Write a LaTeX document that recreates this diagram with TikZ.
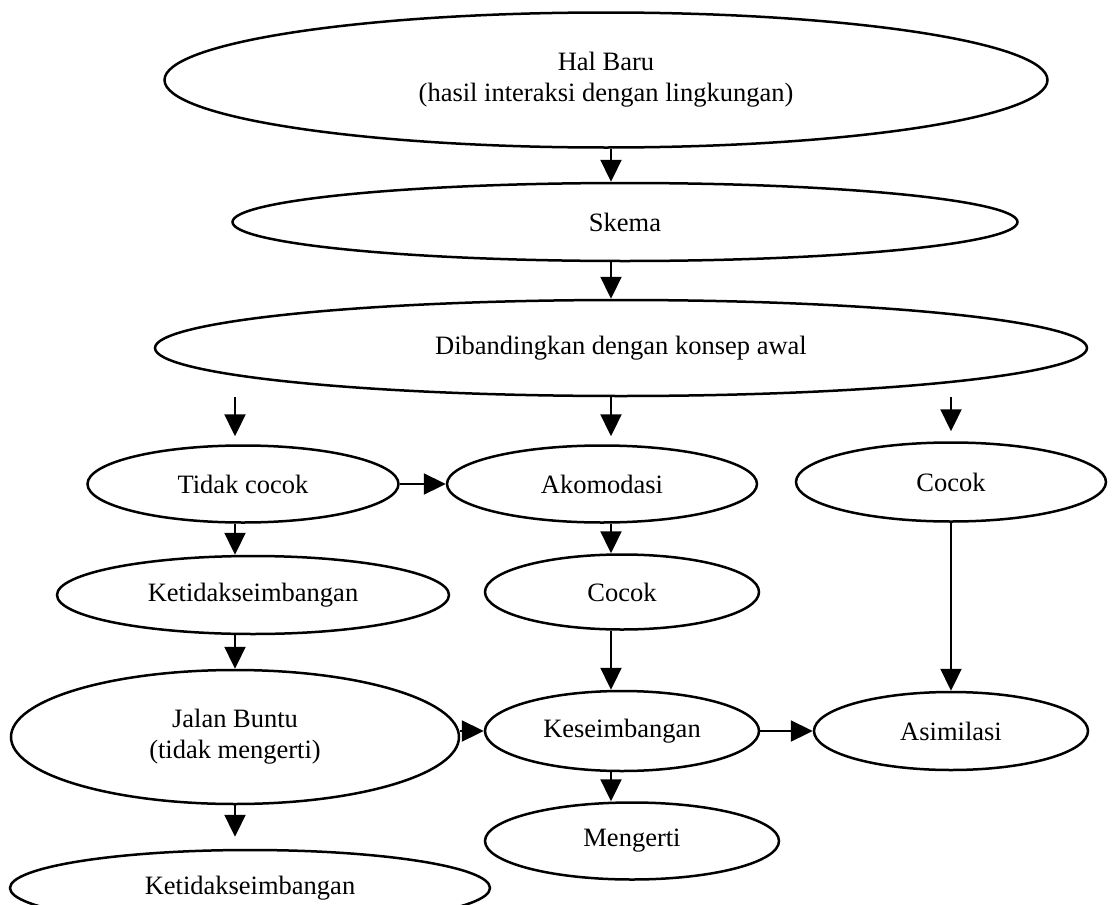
\documentclass[tikz,border=0pt]{standalone}
\usepackage{fontspec}
\setmainfont{Liberation Serif}
\usetikzlibrary{shapes.geometric,arrows.meta}

\begin{document}
\begin{tikzpicture}
	[
		x=1pt, y=-1pt,
		bubble/.style={ellipse, draw=black, line width=2.5pt, inner sep=0pt, align=center,
			font=\fontsize{26.5}{31}\selectfont},
		flow/.style={line width=2.3pt, -{Triangle[length=22pt, width=21pt]}}
	]

	\useasboundingbox (0, 0) rectangle (1112, 905);
	\clip (0, 0) rectangle (1112, 905);

	% columns of the vertical arrows
	\coordinate (leftaxis) at (235, 0);
	\coordinate (midaxis)  at (611, 0);

	\node (hal)    at (606, 80)  [bubble, minimum width=883pt, minimum height=135pt]
		{Hal Baru\\(hasil interaksi dengan lingkungan)};
	\node (skema)  at (625, 222) [bubble, minimum width=785pt, minimum height=78pt] {Skema};
	\node (dib)    at (621, 348) [bubble, minimum width=932pt, minimum height=96pt]
		{Dibandingkan dengan konsep awal};

	\node (tidak)  at (243, 484) [bubble, minimum width=311pt, minimum height=77pt] {Tidak cocok};
	\node (akom)   at (602, 484) [bubble, minimum width=310pt, minimum height=77pt] {Akomodasi};
	\node (cocokA) at (951, 482) [bubble, minimum width=310pt, minimum height=79pt] {Cocok};

	\node (ketidA) at (253, 595) [bubble, minimum width=392pt, minimum height=78pt] {Ketidakseimbangan};
	\node (cocokB) at (622, 592) [bubble, minimum width=274pt, minimum height=75pt] {Cocok};

	\node (jalan)  at (235, 737) [bubble, minimum width=448pt, minimum height=134pt]
		{Jalan Buntu\\(tidak mengerti)};
	\node (kes)    at (622, 731) [bubble, minimum width=274pt, minimum height=80pt] {Keseimbangan};
	\node (asim)   at (951, 731) [bubble, minimum width=274pt, minimum height=78pt] {Asimilasi};

	\node (meng)   at (632, 841) [bubble, minimum width=294pt, minimum height=77pt] {Mengerti};
	\node (ketidB) at (250, 888) [bubble, minimum width=480pt, minimum height=76pt] {Ketidakseimbangan};

	\draw [flow] (hal.south -| midaxis) -- (skema.north -| midaxis);
	\draw [flow] (skema.south -| midaxis) -- (dib.north -| midaxis);

	\draw [flow, shorten >=8pt] (dib.south -| leftaxis) -- (tidak.north -| leftaxis);
	\draw [flow, shorten >=8pt] (dib.south -| midaxis) -- (akom.north -| midaxis);
	\draw [flow, shorten >=10pt] (dib.south -| cocokA) -- (cocokA.north);

	\draw [flow] (tidak.east) -- (akom.west);
	\draw [flow] (tidak.south -| leftaxis) -- (ketidA.north -| leftaxis);
	\draw [flow] (ketidA.south -| leftaxis) -- (jalan.north -| leftaxis);
	\draw [flow, shorten >=12pt] (jalan.south -| leftaxis) -- (ketidB.north -| leftaxis);

	\draw [flow] (akom.south -| midaxis) -- (cocokB.north -| midaxis);
	\draw [flow] (cocokB.south -| midaxis) -- (kes.north -| midaxis);
	\draw [flow] (kes.south -| midaxis) -- (meng.north -| midaxis);

	\draw [flow] (kes.west -| jalan.east) -- (kes.west);
	\draw [flow] (kes.east) -- (asim.west);
	\draw [flow] (cocokA.south) -- (asim.north);
\end{tikzpicture}
\end{document}
